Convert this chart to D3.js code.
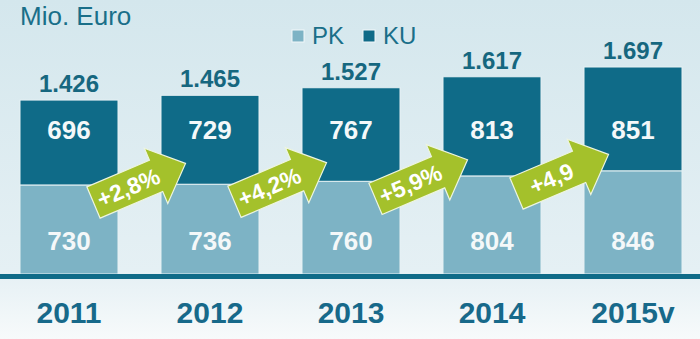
<!DOCTYPE html>
<html lang="de">
<head>
<meta charset="UTF-8">
<title>Mio. Euro PK / KU</title>
<script src="https://d3js.org/d3.v7.min.js"></script>
<style>
  body { margin: 0; background: #fff; }
  svg { display: block; font-family: Arial, "Liberation Sans", sans-serif; }
</style>
</head>
<body>
<svg width="700" height="339"></svg>
<script>
// data
const years = ["2011", "2012", "2013", "2014", "2015v"];
const pk = [730, 736, 760, 804, 846];
const ku = [696, 729, 767, 813, 851];
const totals = ["1.426", "1.465", "1.527", "1.617", "1.697"];
const growth = ["+2,8%", "+4,2%", "+5,9%", "+4,9"];
const seriesNames = ["PK", "KU"];

const svg = d3.select("svg"),
    W = +svg.attr("width"),
    H = +svg.attr("height");

const colPK = "#7db3c5", colKU = "#0f6b88", colText = "#16677f", colGreen = "#a4c12b";

// background
const defs = svg.append("defs");
const grad = defs.append("linearGradient").attr("id", "bg")
    .attr("x1", 0).attr("y1", 0).attr("x2", 0).attr("y2", 1);
grad.append("stop").attr("offset", "0%").attr("stop-color", "#d4e7ed");
grad.append("stop").attr("offset", "80%").attr("stop-color", "#e5f0f4");
grad.append("stop").attr("offset", "100%").attr("stop-color", "#f7fafb");
svg.append("rect").attr("width", W).attr("height", H).attr("fill", "url(#bg)");

const x = d3.scaleBand().domain(years).range([20, 682]).paddingInner(0.305).paddingOuter(0);
const y = d3.scaleLinear().domain([0, 1697]).range([274, 67]);

const rows = years.map((yr, i) => ({ year: yr, pk: pk[i], ku: ku[i], total: totals[i] }));

const g = svg.append("g");

// PK bars
g.selectAll(".pk").data(rows).join("rect")
    .attr("class", "pk")
    .attr("x", d => x(d.year))
    .attr("width", x.bandwidth())
    .attr("y", d => y(d.pk))
    .attr("height", d => y(0) - y(d.pk))
    .attr("fill", colPK)
    .attr("stroke", "#e6f1f4").attr("stroke-width", 1);

// KU bars
g.selectAll(".ku").data(rows).join("rect")
    .attr("class", "ku")
    .attr("x", d => x(d.year))
    .attr("width", x.bandwidth())
    .attr("y", d => y(d.pk + d.ku))
    .attr("height", d => y(d.pk) - y(d.pk + d.ku))
    .attr("fill", colKU)
    .attr("stroke", "#e6f1f4").attr("stroke-width", 1);

// values in bars (sit on one row per series)
g.selectAll(".pkv").data(rows).join("text")
    .attr("x", d => x(d.year) + x.bandwidth() / 2)
    .attr("y", y(270) + 9)
    .attr("text-anchor", "middle")
    .attr("font-size", 26).attr("font-weight", "bold").attr("fill", "#f4f8f9")
    .text(d => d.pk);

g.selectAll(".kuv").data(rows).join("text")
    .attr("x", d => x(d.year) + x.bandwidth() / 2)
    .attr("y", y(1180) + 9)
    .attr("text-anchor", "middle")
    .attr("font-size", 26).attr("font-weight", "bold").attr("fill", "#f4f8f9")
    .text(d => d.ku);

// totals
g.selectAll(".tot").data(rows).join("text")
    .attr("x", d => x(d.year) + x.bandwidth() / 2)
    .attr("y", d => y(d.pk + d.ku) - 8)
    .attr("text-anchor", "middle")
    .attr("font-size", 24).attr("font-weight", "bold").attr("fill", colText)
    .text(d => d.total);

// axis baseline
svg.append("rect").attr("x", 0).attr("width", W)
    .attr("y", y(0)).attr("height", 5).attr("fill", colKU);

// year labels
const xAxis = svg.append("g")
    .attr("transform", `translate(0,${y(0) + 5})`)
    .call(d3.axisBottom(x).tickSize(0).tickPadding(0));
xAxis.select(".domain").remove();
xAxis.selectAll("text")
    .attr("dy", 0).attr("y", 44)
    .attr("font-size", 30).attr("font-weight", "bold")
    .attr("font-family", "Arial, 'Liberation Sans', sans-serif")
    .attr("fill", "#17698a");

// growth arrows
const arrowPath = "M-50,-17 L18,-17 L18,-30 L50,0 L18,30 L18,17 L-50,17 Z";
const arrows = svg.selectAll(".arrow").data(growth).join("g")
    .attr("class", "arrow")
    .attr("transform", (d, i) => {
        const cx = (x(years[i]) + x.bandwidth() + x(years[i + 1])) / 2;
        const cy = y(pk[i]) - 2;
        return `translate(${cx},${cy}) rotate(-23)`;
    });
arrows.append("path")
    .attr("d", arrowPath)
    .attr("fill", colGreen)
    .attr("stroke", "#eef5e0").attr("stroke-width", 1.2);
arrows.append("text")
    .attr("x", -12).attr("y", 8)
    .attr("text-anchor", "middle")
    .attr("font-size", 23).attr("font-weight", "bold").attr("fill", "#fff")
    .text(d => d);

// unit label
svg.append("text").attr("x", 20).attr("y", 25)
    .attr("font-size", 26).attr("fill", "#1a6f89")
    .text("Mio. Euro");

// legend
const legend = svg.selectAll(".leg").data(seriesNames).join("g")
    .attr("transform", (d, i) => `translate(${292 + i * 71},30)`);
legend.append("rect")
    .attr("width", 12).attr("height", 12)
    .attr("fill", (d, i) => i === 0 ? colPK : colKU)
    .attr("stroke", "#f2f7f9").attr("stroke-width", 1);
legend.append("text")
    .attr("x", 20).attr("y", 14)
    .attr("font-size", 24).attr("fill", "#1a6f89")
    .text(d => d);
</script>
</body>
</html>
